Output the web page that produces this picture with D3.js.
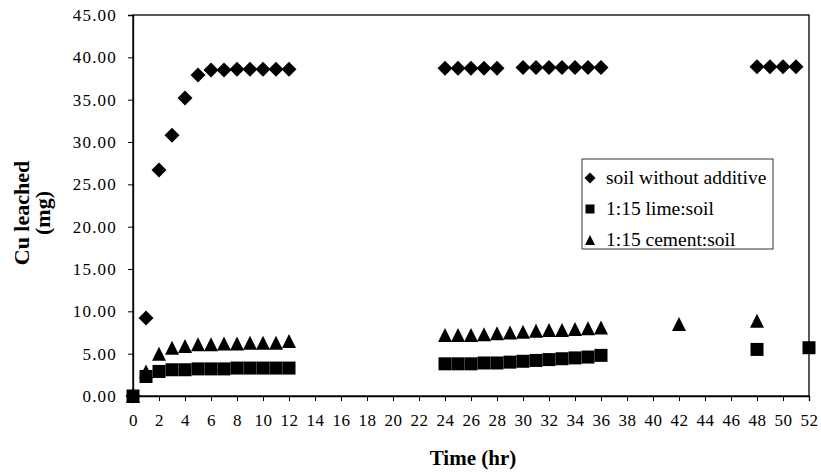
<!DOCTYPE html>
<html>
<head>
<meta charset="utf-8">
<script src="https://cdn.jsdelivr.net/npm/d3@7"></script>
<style>
	body { margin: 0; background: #fff; }
	svg text { font-family: "Liberation Serif", "Times New Roman", serif; fill: #000; }
</style>
</head>
<body>
<div id="graph"></div>
<script>
"use strict";

// soil without additive
let soilTime = [0, 1, 2, 3, 4, 5, 6, 7, 8, 9, 10, 11, 12, 24, 25, 26, 27, 28, 30, 31, 32, 33, 34, 35, 36, 48, 49, 50, 51];
let soilCu = [0, 9.2, 26.7, 30.8, 35.2, 37.9, 38.5, 38.5, 38.6, 38.6, 38.6, 38.6, 38.6, 38.7, 38.7, 38.7, 38.7, 38.7, 38.8, 38.8, 38.8, 38.8, 38.8, 38.8, 38.8, 38.9, 38.9, 38.9, 38.9];

// 1:15 lime:soil
let limeTime = [0, 1, 2, 3, 4, 5, 6, 7, 8, 9, 10, 11, 12, 24, 25, 26, 27, 28, 29, 30, 31, 32, 33, 34, 35, 36, 48, 52];
let limeCu = [0, 2.3, 2.9, 3.1, 3.1, 3.2, 3.2, 3.2, 3.3, 3.3, 3.3, 3.3, 3.3, 3.8, 3.8, 3.8, 3.9, 3.9, 4.0, 4.1, 4.2, 4.3, 4.4, 4.5, 4.6, 4.8, 5.5, 5.7];

// 1:15 cement:soil
let cementTime = [0, 1, 2, 3, 4, 5, 6, 7, 8, 9, 10, 11, 12, 24, 25, 26, 27, 28, 29, 30, 31, 32, 33, 34, 35, 36, 42, 48];
let cementCu = [0, 2.9, 5.0, 5.7, 5.9, 6.1, 6.1, 6.2, 6.2, 6.3, 6.3, 6.3, 6.5, 7.2, 7.2, 7.2, 7.3, 7.4, 7.5, 7.6, 7.7, 7.8, 7.8, 7.9, 8.0, 8.1, 8.5, 8.9];

let xTicks = d3.range(0, 53, 2);
let yTicks = d3.range(0, 46, 5);
let legendLabels = ["soil without additive", "1:15 lime:soil", "1:15 cement:soil"];

let width = 821;
let height = 472;
let margin = {
	top: 15,
	right: 12,
	bottom: 76,
	left: 133
}

function diamondPath(r)
{
	return "M0," + (-r) + "L" + r + ",0L0," + r + "L" + (-r) + ",0Z";
}

function squarePath(r)
{
	return "M" + (-r) + "," + (-r) + "H" + r + "V" + r + "H" + (-r) + "Z";
}

function trianglePath(r)
{
	return "M0," + (-r) + "L" + r + "," + r + "L" + (-r) + "," + r + "Z";
}

function drawChart()
{
	let svg = d3.select("#graph")
				.append("svg")
				.attr("width", width)
				.attr("height", height);

	let x = d3.scaleLinear()
		.domain([0, 52])
		.range([margin.left, width - margin.right]);
	let y = d3.scaleLinear()
		.domain([0, 45])
		.range([height - margin.bottom, margin.top]);

	// frame
	svg.append("rect")
		.attr("x", x(0))
		.attr("y", y(45))
		.attr("width", x(52) - x(0))
		.attr("height", y(0) - y(45))
		.attr("fill", "none")
		.attr("stroke", "#000")
		.attr("stroke-width", 1.3);

	let xAxis = svg.append("g")
		.attr("transform", "translate(0," + y(0) + ")")
		.call(d3.axisBottom(x).tickValues(xTicks).tickSize(5).tickPadding(13).tickFormat(d3.format("d")));
	xAxis.attr("font-family", null);
	xAxis.selectAll("text")
		.style("font-size", "17px")
		.style("letter-spacing", "0.4px");

	let yAxis = svg.append("g")
		.attr("transform", "translate(" + x(0) + ",0)")
		.call(d3.axisLeft(y).tickValues(yTicks).tickSize(5).tickPadding(11).tickFormat(d3.format(".2f")));
	yAxis.attr("font-family", null);
	yAxis.selectAll("text")
		.style("font-size", "17px")
		.style("letter-spacing", "1.2px");

	svg.selectAll(".domain").attr("stroke-width", 1.3);

	// axis titles
	svg.append("text")
		.attr("x", 473)
		.attr("y", 465)
		.attr("text-anchor", "middle")
		.style("font-size", "21px")
		.style("font-weight", "bold")
		.text("Time (hr)");

	let yTitle = svg.append("text")
		.attr("transform", "translate(29,213) rotate(-90)")
		.attr("text-anchor", "middle")
		.style("font-size", "22px")
		.style("font-weight", "bold");
	yTitle.append("tspan").attr("x", 0).attr("dy", 0).text("Cu leached");
	yTitle.append("tspan").attr("x", 0).attr("dy", 21).text("(mg)");

	let plot = svg.append("g");

	plot.selectAll(".soil")
		.data(d3.zip(soilTime, soilCu))
		.enter().append("path")
		.attr("class", "soil")
		.attr("d", diamondPath(7.5))
		.attr("transform", function(d)
		{
			return "translate(" + x(d[0]) + "," + y(d[1]) + ")";
		});

	plot.selectAll(".cement")
		.data(d3.zip(cementTime, cementCu))
		.enter().append("path")
		.attr("class", "cement")
		.attr("d", trianglePath(7))
		.attr("transform", function(d)
		{
			return "translate(" + x(d[0]) + "," + y(d[1]) + ")";
		});

	plot.selectAll(".lime")
		.data(d3.zip(limeTime, limeCu))
		.enter().append("path")
		.attr("class", "lime")
		.attr("d", squarePath(6.5))
		.attr("transform", function(d)
		{
			return "translate(" + x(d[0]) + "," + y(d[1]) + ")";
		});

	// legend
	let legend = svg.append("g").attr("transform", "translate(582,159)");
	legend.append("rect")
		.attr("width", 191)
		.attr("height", 90)
		.attr("fill", "#fff")
		.attr("stroke", "#333")
		.attr("stroke-width", 1);

	let symbols = [diamondPath(5.5), squarePath(4.5), trianglePath(5)];
	let rowY = [19, 50, 81];
	for (let i = 0; i < legendLabels.length; i++)
	{
		legend.append("path")
			.attr("d", symbols[i])
			.attr("transform", "translate(8," + rowY[i] + ")");
		legend.append("text")
			.attr("x", 24)
			.attr("y", rowY[i] + 6)
			.style("font-size", "19.5px")
			.text(legendLabels[i]);
	}
}

drawChart();
</script>
</body>
</html>
